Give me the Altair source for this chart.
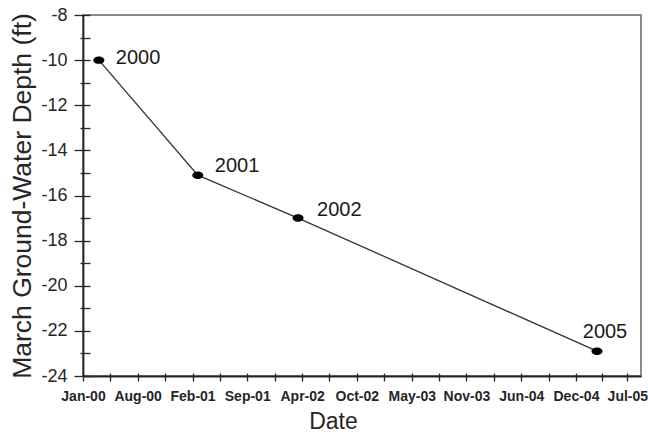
import json
from datetime import datetime, timezone

import altair as alt
import pandas as pd

# March depth to ground water, one reading per year
years = ["2000", "2001", "2002", "2005"]
dates = ["2000-03-20", "2001-03-17", "2002-03-19", "2005-03-17"]
depth_ft = [-10.0, -15.1, -17.0, -22.9]

# Major ticks along the time axis and the labels shown under them
x_tick_dates = ["2000-01-22", "2000-08-09", "2001-02-26", "2001-09-14", "2002-04-03",
                "2002-10-20", "2003-05-09", "2003-11-25", "2004-06-13", "2004-12-30",
                "2005-07-06"]
x_tick_labels = ["Jan-00", "Aug-00", "Feb-01", "Sep-01", "Apr-02", "Oct-02",
                 "May-03", "Nov-03", "Jun-04", "Dec-04", "Jul-05"]
# The time axis runs a little past its last tick
x_axis_end = "2005-08-25"
# Depth ticks every foot, labelled every two feet
y_ticks = list(range(-24, -7))

FONT = "Liberation Sans"
INK = "#262626"


def to_ms(day):
    return int(datetime.fromisoformat(day).replace(tzinfo=timezone.utc).timestamp() * 1000)


major_ms = [to_ms(d) for d in x_tick_dates]
minor_ms = [(a + b) // 2 for a, b in zip(major_ms[:-1], major_ms[1:])]
x_values = sorted(major_ms + minor_ms)

x_label_expr = (
    "indexof({m}, time(datum.value)) >= 0 ? {l}[indexof({m}, time(datum.value))] : ''"
    .format(m=json.dumps(major_ms), l=json.dumps(x_tick_labels))
)

df = pd.DataFrame({"year": years, "date": dates, "depth": depth_ft})

x_scale = alt.Scale(type="utc", domain=[major_ms[0], to_ms(x_axis_end)])
y_scale = alt.Scale(domain=[-24, -8], nice=False, zero=False)

# Axes with tick labels and ticks that straddle the frame
x_axis = alt.Axis(
    orient="bottom", values=x_values, labelExpr=x_label_expr, offset=-3, domain=False,
    grid=False, tickSize=8, tickColor=INK, tickWidth=1.3,
    labelFont=FONT, labelFontSize=14, labelFontWeight="bold", labelColor=INK,
    labelPadding=8, labelOverlap=False, labelFlush=False,
    title="Date", titleFont=FONT, titleFontSize=23, titleFontWeight="normal",
    titleColor=INK, titleX=250, titleY=48, titleBaseline="middle",
)
y_axis = alt.Axis(
    orient="left", values=y_ticks,
    labelExpr="datum.value % 2 === 0 ? '' + datum.value : ''",
    offset=-7, domain=False, grid=False,
    tickSize={"condition": {"test": "datum.value % 2 === 0", "value": 16}, "value": 10},
    tickColor=INK, tickWidth=1.3,
    labelFont=FONT, labelFontSize=18, labelColor=INK, labelPadding=7,
    title="March Ground-Water Depth (ft)", titleFont=FONT, titleFontSize=26.5,
    titleFontWeight="normal", titleColor=INK, titleX=-68, titleY=180.5,
    titleBaseline="middle",
)

# Dark left and bottom frame lines
x_frame = alt.Axis(orient="bottom", domain=True, domainColor=INK, domainWidth=1.8,
                   ticks=False, labels=False, grid=False, title="")
y_frame = alt.Axis(orient="left", domain=True, domainColor=INK, domainWidth=1.8,
                   ticks=False, labels=False, grid=False, title="")

base = alt.Chart(df)

line = base.mark_line(color="#333333", strokeWidth=1.3).encode(
    x=alt.X("date:T", scale=x_scale, axis=x_frame),
    y=alt.Y("depth:Q", scale=y_scale, axis=y_frame),
)

ellipse = "M-1,0A1,0.68,0,1,1,1,0A1,0.68,0,1,1,-1,0Z"
points = base.mark_point(shape=ellipse, size=121, filled=True, color="#000000",
                         opacity=1).encode(
    x=alt.X("date:T", scale=x_scale, axis=x_axis),
    y=alt.Y("depth:Q", scale=y_scale, axis=y_axis),
)

# Year labels beside each reading
label_style = {
    "2000": dict(dx=17, dy=-2, align="left"),
    "2001": dict(dx=17, dy=-9, align="left"),
    "2002": dict(dx=19, dy=-8, align="left"),
    "2005": dict(dx=8, dy=-19, align="center"),
}
labels = [
    base.transform_filter(alt.datum.year == yr).mark_text(
        font=FONT, fontSize=20, color="#1a1a1a", baseline="middle", **style
    ).encode(
        x=alt.X("date:T", scale=x_scale, axis=None),
        y=alt.Y("depth:Q", scale=y_scale, axis=None),
        text="year:N",
    )
    for yr, style in label_style.items()
]

chart = (
    alt.layer(line, points, *labels)
    .resolve_axis(x="independent", y="independent")
    .properties(
        width=558, height=361,
        padding={"left": 83, "top": 15, "right": 7, "bottom": 58},
        autosize=alt.AutoSizeParams(type="none"),
        background="white",
    )
    .configure_view(stroke="#8a8a8a", strokeWidth=2)
)

chart.save("out.html", embed_options={"renderer": "svg", "actions": False})
